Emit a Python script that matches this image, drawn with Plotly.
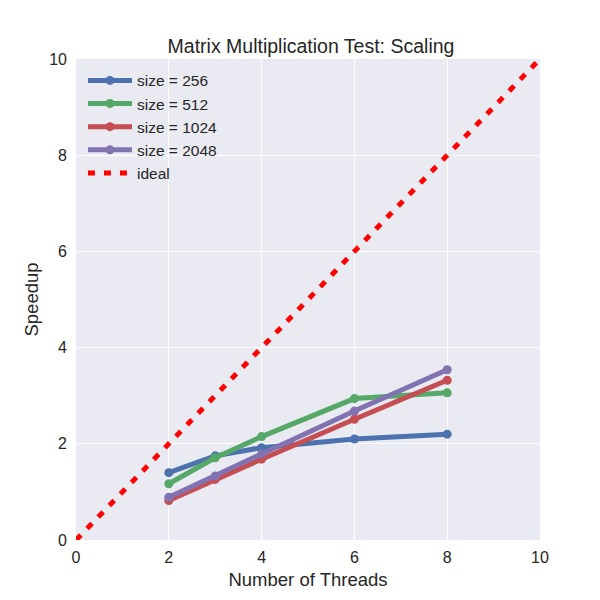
import plotly.graph_objects as go

threads = [2, 3, 4, 6, 8]
speedup_256 = [1.40, 1.75, 1.92, 2.10, 2.20]
speedup_512 = [1.17, 1.71, 2.15, 2.94, 3.06]
speedup_1024 = [0.82, 1.26, 1.68, 2.51, 3.32]
speedup_2048 = [0.89, 1.33, 1.79, 2.68, 3.54]
ideal_x = [0, 10]
ideal_y = [0, 10]

series = [
    ("size = 256", speedup_256, "#4C72B0"),
    ("size = 512", speedup_512, "#55A868"),
    ("size = 1024", speedup_1024, "#C44E52"),
    ("size = 2048", speedup_2048, "#8172B2"),
]

fig = go.Figure()
for name, vals, color in series:
    fig.add_trace(go.Scatter(
        x=threads, y=vals, name=name, mode="lines+markers",
        line=dict(color=color, width=5),
        marker=dict(color=color, size=9),
    ))
fig.add_trace(go.Scatter(
    x=ideal_x, y=ideal_y, name="ideal", mode="lines",
    line=dict(color="red", width=5, dash="7px,9px"),
))

fig.update_layout(
    width=600, height=600,
    margin=dict(l=68, r=68, t=51, b=68, autoexpand=False),
    paper_bgcolor="white", plot_bgcolor="#EAEAF2",
    font=dict(family="Liberation Sans, Arial, sans-serif", size=16, color="#262626"),
    title=dict(text="Matrix Multiplication Test: Scaling", x=0.505, xanchor="center",
               y=0.937, yanchor="middle", font=dict(size=19.5, color="#262626")),
    legend=dict(x=0.015, y=0.99, xanchor="left", yanchor="top", itemwidth=44,
                bgcolor="rgba(0,0,0,0)", font=dict(size=15.5), tracegroupgap=0),
    showlegend=True,
)
fig.update_xaxes(range=[0, 10], tickvals=[0, 2, 4, 6, 8, 10], showgrid=True,
                 gridcolor="white", gridwidth=1, zeroline=False, showline=False,
                 automargin=False, ticklabelstandoff=6,
                 title=dict(text="Number of Threads", font=dict(size=18.5), standoff=8), ticks="")
fig.update_yaxes(range=[0, 10], tickvals=[0, 2, 4, 6, 8, 10], showgrid=True,
                 gridcolor="white", gridwidth=1, zeroline=False, showline=False,
                 automargin=False, ticklabelstandoff=8,
                 title=dict(text="Speedup", font=dict(size=18.5), standoff=5), ticks="")

fig.write_html("out.html")
